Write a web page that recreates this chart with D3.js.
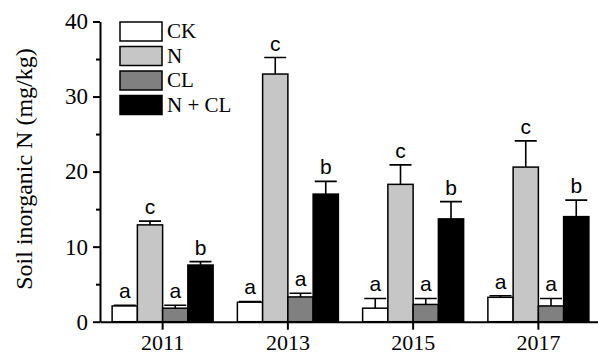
<!DOCTYPE html>
<html>
<head>
<meta charset="utf-8">
<script src="https://cdn.jsdelivr.net/npm/d3@7"></script>
<style>
  body { margin: 0; background: #fff; }
  svg { display: block; }
</style>
</head>
<body>
<script>
// data
const years = ["2011", "2013", "2015", "2017"];
const treatments = ["CK", "N", "CL", "N + CL"];
const colors = ["#ffffff", "#c6c6c6", "#808080", "#000000"];

const ck = [2.1, 2.6, 1.8, 3.25];
const nOnly = [12.9, 33.0, 18.3, 20.6];
const cl = [1.8, 3.3, 2.3, 2.1];
const ncl = [7.55, 17.0, 13.7, 14.0];

const ckErr = [0.1, 0.1, 1.3, 0.2];
const nErr = [0.5, 2.2, 2.6, 3.5];
const clErr = [0.4, 0.5, 0.8, 1.0];
const nclErr = [0.45, 1.7, 2.3, 2.2];

const ckSig = ["a", "a", "a", "a"];
const nSig = ["c", "c", "c", "c"];
const clSig = ["a", "a", "a", "a"];
const nclSig = ["b", "b", "b", "b"];

const yTicks = [0, 10, 20, 30, 40];
const yMinor = [5, 15, 25, 35];

const values = [ck, nOnly, cl, ncl];
const errs = [ckErr, nErr, clErr, nclErr];
const sigs = [ckSig, nSig, clSig, nclSig];

const W = 598, H = 356;
const serif = "'Liberation Serif', 'Times New Roman', serif";

const svg = d3.select("body").append("svg")
  .attr("width", W)
  .attr("height", H);

const x = d3.scaleBand().domain(years).range([100, 601]);
const xs = d3.scaleBand().domain(treatments).range([-50.5, 50.5]);
const y = d3.scaleLinear().domain([0, 40]).range([321.7, 21.5]);

// rows for the bars
const rows = [];
years.forEach((yr, i) => {
  treatments.forEach((t, j) => {
    rows.push({ year: yr, t: t, j: j, v: values[j][i], e: errs[j][i], s: sigs[j][i] });
  });
});

const bars = svg.append("g");

// error bars first, so the bar outline sits over the stem
bars.selectAll(".err")
  .data(rows)
  .enter()
  .append("path")
  .attr("class", "err")
  .attr("d", d => {
    const cx = x(d.year) + x.bandwidth() / 2 + xs(d.t) + xs.bandwidth() / 2;
    const y0 = y(d.v), y1 = y(d.v + d.e);
    return "M" + cx + "," + y0 + "V" + y1 + "M" + (cx - 11) + "," + y1 + "H" + (cx + 11);
  })
  .attr("stroke", "#000")
  .attr("stroke-width", 1.6)
  .attr("fill", "none");

bars.selectAll("rect")
  .data(rows)
  .enter()
  .append("rect")
  .attr("x", d => x(d.year) + x.bandwidth() / 2 + xs(d.t))
  .attr("y", d => y(d.v))
  .attr("width", xs.bandwidth())
  .attr("height", d => y(0) - y(d.v))
  .attr("fill", d => colors[d.j])
  .attr("stroke", "#000")
  .attr("stroke-width", 1.5);

bars.selectAll(".sig")
  .data(rows)
  .enter()
  .append("text")
  .attr("class", "sig")
  .attr("x", d => x(d.year) + x.bandwidth() / 2 + xs(d.t) + xs.bandwidth() / 2)
  .attr("y", d => y(d.v + d.e) - 7)
  .attr("text-anchor", "middle")
  .attr("font-family", "'Liberation Sans', Arial, sans-serif")
  .attr("font-size", 21)
  .text(d => d.s);

// y axis
const yAxis = svg.append("g")
  .attr("transform", "translate(100,0)")
  .call(d3.axisLeft(y).tickValues(yTicks).tickSize(7).tickSizeOuter(0).tickPadding(5));
yAxis.select(".domain").attr("stroke-width", 2);
yAxis.selectAll(".tick line").attr("stroke-width", 2);
yAxis.selectAll("text")
  .attr("font-family", serif)
  .attr("font-size", 23)
  .attr("fill", "#000");

svg.append("g")
  .attr("transform", "translate(100,0)")
  .call(d3.axisLeft(y).tickValues(yMinor).tickSize(4).tickFormat(""))
  .call(g => g.select(".domain").remove())
  .selectAll(".tick line").attr("stroke-width", 2);

// x axis
const xAxis = svg.append("g")
  .attr("transform", "translate(0," + y(0) + ")")
  .call(d3.axisBottom(x).tickSize(8).tickSizeOuter(0).tickPadding(5));
xAxis.select(".domain").attr("stroke-width", 2);
xAxis.selectAll(".tick line").attr("stroke-width", 2);
xAxis.selectAll("text")
  .attr("font-family", serif)
  .attr("font-size", 22)
  .attr("fill", "#000");

// y label
svg.append("text")
  .attr("transform", "translate(32,169) rotate(-90)")
  .attr("text-anchor", "middle")
  .attr("font-family", serif)
  .attr("font-size", 24)
  .text("Soil inorganic N (mg/kg)");

// legend
const legend = svg.append("g").attr("transform", "translate(120,22)");
const item = legend.selectAll("g")
  .data(treatments)
  .enter()
  .append("g")
  .attr("transform", (d, i) => "translate(0," + i * 24.5 + ")");
item.append("rect")
  .attr("width", 42)
  .attr("height", 19)
  .attr("fill", (d, i) => colors[i])
  .attr("stroke", "#000")
  .attr("stroke-width", 1.5);
item.append("text")
  .attr("x", 47)
  .attr("y", 16)
  .attr("font-family", serif)
  .attr("font-size", 21)
  .text(d => d);
</script>
</body>
</html>
